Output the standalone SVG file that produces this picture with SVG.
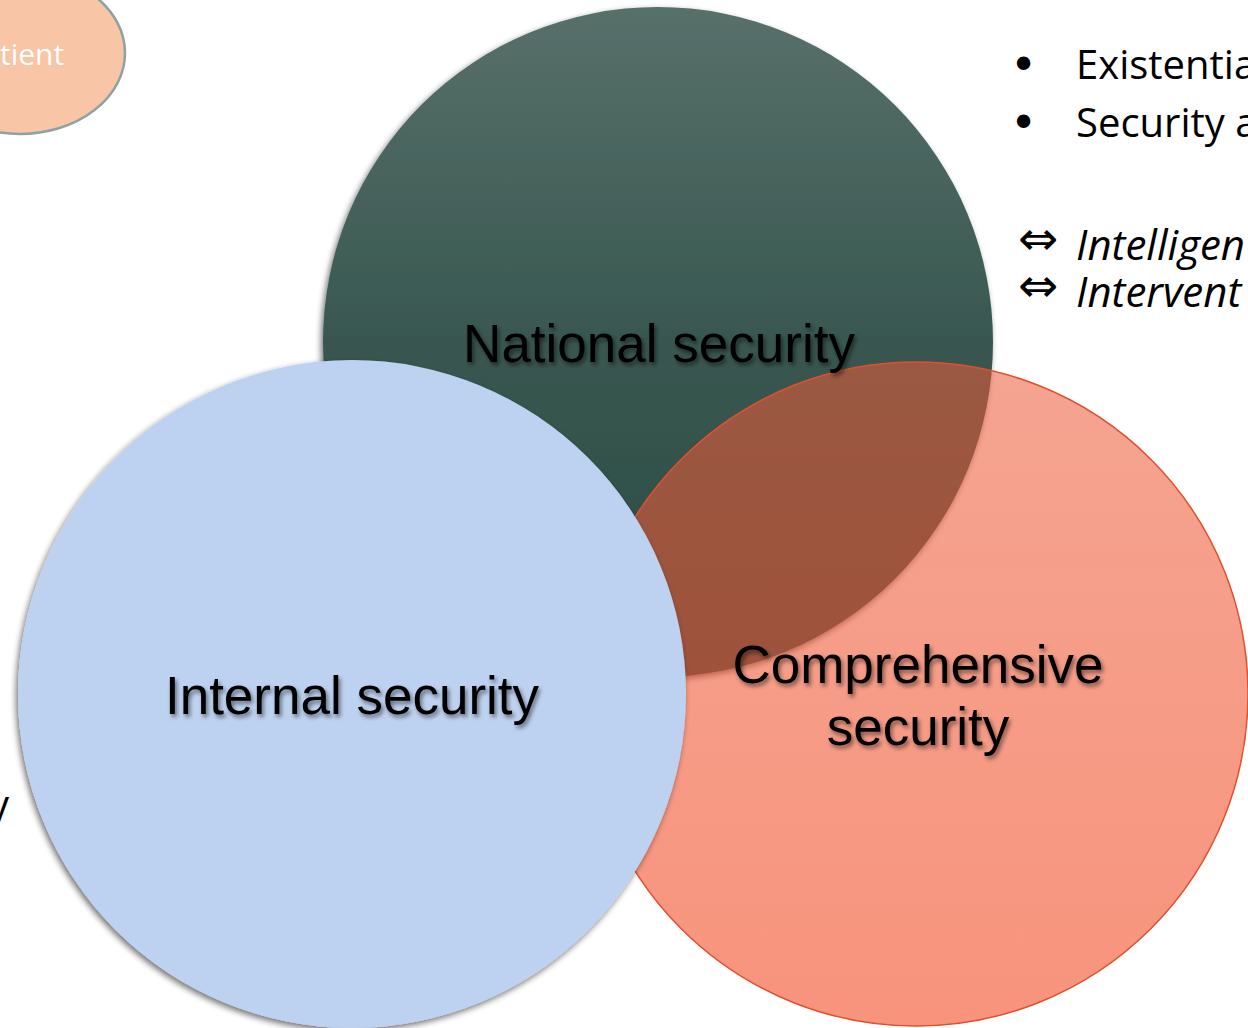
<svg xmlns="http://www.w3.org/2000/svg" width="1248" height="1028" viewBox="0 0 1248 1028">
  <defs>
    <linearGradient id="gGreen" x1="0" y1="0" x2="0" y2="1">
      <stop offset="0" stop-color="#58706a"/>
      <stop offset="0.5" stop-color="#385750"/>
      <stop offset="1" stop-color="#2b4b44"/>
    </linearGradient>
    <linearGradient id="gSalmon" x1="0" y1="0" x2="0" y2="1">
      <stop offset="0" stop-color="#ec5a38" stop-opacity="0.55"/>
      <stop offset="1" stop-color="#f4542f" stop-opacity="0.63"/>
    </linearGradient>
    <filter id="shadow" x="-10%" y="-10%" width="120%" height="120%">
      <feGaussianBlur in="SourceAlpha" stdDeviation="3"/>
      <feOffset dx="-2" dy="3" result="b"/>
      <feComponentTransfer><feFuncA type="linear" slope="0.55"/></feComponentTransfer>
      <feMerge><feMergeNode/><feMergeNode in="SourceGraphic"/></feMerge>
    </filter>
    <filter id="tshadow" x="-10%" y="-20%" width="120%" height="150%">
      <feGaussianBlur in="SourceAlpha" stdDeviation="2"/>
      <feOffset dx="2" dy="3" result="b"/>
      <feComponentTransfer><feFuncA type="linear" slope="0.5"/></feComponentTransfer>
      <feMerge><feMergeNode/><feMergeNode in="SourceGraphic"/></feMerge>
    </filter>
  </defs>
  <style>
    .lbl { font-family: "Liberation Sans", Arial, sans-serif; font-size: 53px; fill: #000; text-anchor: middle; }
    .side { font-family: "Open Sans", "Noto Sans", sans-serif; font-size: 40px; fill: #000; }
    .it { font-style: italic; font-size: 42px; }
    .bul { font-family: "DejaVu Sans", sans-serif; font-size: 46px; fill: #000; }
    .arr { font-family: "DejaVu Sans", sans-serif; font-size: 48px; fill: #000; }
  </style>
  <rect width="1248" height="1028" fill="#ffffff"/>

  <g id="patient">
    <ellipse cx="20" cy="53" rx="105" ry="81" fill="#f8c5a6" stroke="#8da3a3" stroke-width="2.5"/>
    <text x="0" y="65" style="font-family:'Open Sans','Noto Sans',sans-serif;font-size:30px;fill:#ffffff">tient</text>
  </g>

  <g id="national">
    <circle cx="658" cy="342" r="335" fill="url(#gGreen)" filter="url(#shadow)"/>
  </g>

  <g id="comprehensive">
    <circle cx="916" cy="694" r="332" fill="url(#gSalmon)" stroke="#e0502c" stroke-width="1.5"/>
  </g>

  <g id="internal">
    <circle cx="352" cy="694" r="334" fill="#bdd2f0" filter="url(#shadow)"/>
  </g>

  <g id="labels" filter="url(#tshadow)">
    <text class="lbl" x="659" y="362">National security</text>
    <text class="lbl" x="352" y="714">Internal security</text>
    <text class="lbl" x="918" y="683">Comprehensive</text>
    <text class="lbl" x="918" y="745">security</text>
  </g>

  <g id="notes">
    <text class="bul" x="1010" y="81">•</text>
    <text class="side" x="1076" y="79">Existentia</text>
    <text class="bul" x="1010" y="139">•</text>
    <text class="side" x="1076" y="137">Security a</text>
    <text class="arr" x="1018" y="255">⇔</text>
    <text class="side it" x="1076" y="260">Intelligen</text>
    <text class="arr" x="1018" y="302">⇔</text>
    <text class="side it" x="1076" y="307">Intervent</text>
    <text class="side" x="9" y="819" text-anchor="end">y</text>
  </g>

  <g id="connectors"></g>
</svg>
